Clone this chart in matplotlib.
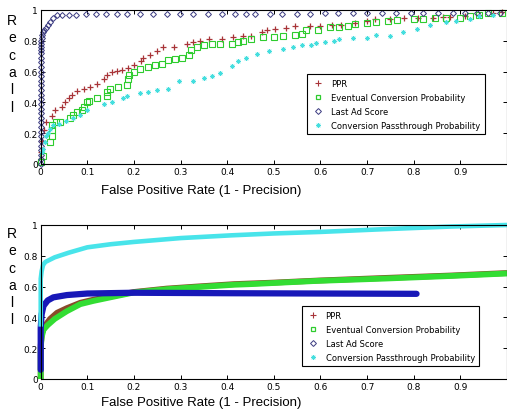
import matplotlib.pyplot as plt
from matplotlib.lines import Line2D

# ---- top panel: sampled operating points ----
ppr_x = [0.0, 0.003, 0.008, 0.012, 0.024, 0.03, 0.046, 0.052, 0.06, 0.068, 0.077, 0.092,
         0.106, 0.12, 0.135, 0.142, 0.152, 0.163, 0.174, 0.188, 0.2, 0.216, 0.22, 0.235,
         0.249, 0.263, 0.285, 0.313, 0.327, 0.342, 0.36, 0.388, 0.413, 0.434, 0.45, 0.474,
         0.485, 0.503, 0.527, 0.545, 0.578, 0.6, 0.625, 0.643, 0.675, 0.7, 0.716, 0.75,
         0.78, 0.81, 0.842, 0.863, 0.878, 0.91, 0.94, 0.97, 0.99]
ppr_y = [0.08, 0.15, 0.22, 0.27, 0.31, 0.35, 0.37, 0.4, 0.43, 0.45, 0.476, 0.49,
         0.5, 0.52, 0.55, 0.58, 0.595, 0.605, 0.61, 0.625, 0.64, 0.67, 0.69, 0.71,
         0.735, 0.757, 0.757, 0.779, 0.79, 0.8, 0.81, 0.81, 0.823, 0.83, 0.83, 0.855,
         0.87, 0.875, 0.886, 0.897, 0.897, 0.897, 0.9, 0.9, 0.917, 0.93, 0.94, 0.94,
         0.945, 0.945, 0.948, 0.952, 0.955, 0.962, 0.97, 0.978, 0.985]

ecp_x = [0.0, 0.005, 0.02, 0.024, 0.024, 0.024, 0.032, 0.041, 0.063, 0.07, 0.078, 0.088,
         0.093, 0.1, 0.104, 0.12, 0.142, 0.142, 0.149, 0.166, 0.184, 0.188, 0.19, 0.2,
         0.213, 0.231, 0.245, 0.26, 0.274, 0.288, 0.302, 0.317, 0.323, 0.335, 0.35, 0.367,
         0.385, 0.41, 0.424, 0.434, 0.452, 0.477, 0.5, 0.52, 0.545, 0.56, 0.57, 0.595,
         0.62, 0.64, 0.66, 0.675, 0.7, 0.72, 0.745, 0.765, 0.8, 0.82, 0.845, 0.87,
         0.9, 0.92, 0.94, 0.96, 0.99]
ecp_y = [0.01, 0.05, 0.14, 0.18, 0.22, 0.25, 0.27, 0.27, 0.3, 0.32, 0.34, 0.35,
         0.37, 0.4, 0.41, 0.43, 0.44, 0.47, 0.49, 0.5, 0.51, 0.55, 0.58, 0.6,
         0.62, 0.63, 0.64, 0.65, 0.672, 0.68, 0.69, 0.71, 0.74, 0.757, 0.77, 0.78,
         0.78, 0.78, 0.79, 0.8, 0.81, 0.823, 0.823, 0.83, 0.835, 0.845, 0.867, 0.867,
         0.89, 0.89, 0.897, 0.91, 0.917, 0.92, 0.93, 0.935, 0.94, 0.94, 0.948, 0.95,
         0.95, 0.96, 0.97, 0.98, 0.98]

las_x = [0.0, 0.0, 0.0, 0.0, 0.0, 0.0, 0.0, 0.0, 0.0, 0.0, 0.0, 0.0, 0.0, 0.0, 0.0,
         0.0, 0.0, 0.0, 0.0, 0.0, 0.0, 0.0, 0.0, 0.0, 0.0, 0.0, 0.0, 0.0, 0.0, 0.002,
         0.003, 0.005, 0.008, 0.012, 0.015, 0.02, 0.027, 0.035, 0.045, 0.06, 0.075,
         0.097, 0.119, 0.141, 0.163, 0.185, 0.213, 0.241, 0.27, 0.299, 0.327, 0.359,
         0.388, 0.417, 0.44, 0.46, 0.492, 0.517, 0.549, 0.578, 0.61, 0.638, 0.67,
         0.699, 0.731, 0.763, 0.795, 0.82, 0.853, 0.884, 0.91, 0.935, 0.96, 0.985]
las_y = [0.0, 0.03, 0.06, 0.09, 0.12, 0.15, 0.18, 0.21, 0.24, 0.27, 0.3, 0.33, 0.36,
         0.39, 0.42, 0.45, 0.48, 0.51, 0.54, 0.57, 0.6, 0.63, 0.66, 0.69, 0.72, 0.74,
         0.76, 0.78, 0.8, 0.82, 0.84, 0.86, 0.87, 0.88, 0.9, 0.92, 0.95, 0.965, 0.965,
         0.97, 0.97, 0.972, 0.972, 0.972, 0.973, 0.973, 0.973, 0.974, 0.974, 0.974,
         0.974, 0.975, 0.975, 0.975, 0.976, 0.976, 0.976, 0.977, 0.977, 0.977, 0.978,
         0.978, 0.978, 0.978, 0.979, 0.979, 0.979, 0.98, 0.98, 0.98, 0.981, 0.981,
         0.982, 0.982]

cpp_x = [0.002, 0.005, 0.01, 0.012, 0.015, 0.02, 0.026, 0.04, 0.055, 0.07, 0.085, 0.1,
         0.135, 0.152, 0.176, 0.186, 0.212, 0.23, 0.25, 0.272, 0.296, 0.327, 0.35,
         0.367, 0.385, 0.41, 0.424, 0.44, 0.463, 0.49, 0.52, 0.54, 0.56, 0.58, 0.59,
         0.61, 0.63, 0.64, 0.67, 0.7, 0.72, 0.749, 0.776, 0.806, 0.834, 0.87, 0.89,
         0.92, 0.94, 0.97]
cpp_y = [0.076, 0.1, 0.14, 0.18, 0.2, 0.23, 0.25, 0.26, 0.28, 0.3, 0.32, 0.35,
         0.39, 0.4, 0.43, 0.44, 0.46, 0.466, 0.48, 0.487, 0.54, 0.54, 0.56,
         0.57, 0.59, 0.638, 0.67, 0.69, 0.714, 0.735, 0.745, 0.757, 0.77, 0.77, 0.785,
         0.79, 0.8, 0.81, 0.82, 0.82, 0.84, 0.833, 0.86, 0.876, 0.9, 0.92, 0.93,
         0.94, 0.96, 0.97]

# ---- bottom panel: full curves ----
b_ppr_x = [0.0, 0.0, 0.003, 0.01, 0.02, 0.035, 0.056, 0.085, 0.113, 0.149, 0.2, 0.27,
           0.343, 0.415, 0.5, 0.6, 0.737, 0.88, 1.0]
b_ppr_y = [0.0, 0.22, 0.3, 0.35, 0.39, 0.43, 0.46, 0.495, 0.515, 0.535, 0.565, 0.587,
           0.602, 0.616, 0.626, 0.64, 0.656, 0.672, 0.688]
b_ecp_x = [0.0, 0.0, 0.002, 0.006, 0.015, 0.03, 0.056, 0.085, 0.113, 0.149, 0.2, 0.27,
           0.343, 0.415, 0.45, 0.593, 0.737, 0.88, 1.0]
b_ecp_y = [0.0, 0.2, 0.27, 0.32, 0.35, 0.39, 0.44, 0.486, 0.507, 0.53, 0.562, 0.583,
           0.598, 0.612, 0.616, 0.637, 0.652, 0.669, 0.685]
b_las_x = [0.0, 0.0, 0.0, 0.002, 0.006, 0.015, 0.027, 0.056, 0.1, 0.2, 0.4, 0.6, 0.806]
b_las_y = [0.06, 0.2, 0.33, 0.42, 0.475, 0.51, 0.53, 0.545, 0.555, 0.56, 0.557, 0.555, 0.553]
b_cpp_x = [0.0, 0.0, 0.002, 0.005, 0.01, 0.03, 0.06, 0.1, 0.15, 0.2, 0.3, 0.41,
           0.5, 0.6, 0.73, 0.88, 1.0]
b_cpp_y = [0.34, 0.65, 0.7, 0.74, 0.76, 0.79, 0.82, 0.855, 0.875, 0.89, 0.915, 0.933,
           0.945, 0.955, 0.972, 0.99, 1.0]

labels = ['PPR', 'Eventual Conversion Probability', 'Last Ad Score',
          'Conversion Passthrough Probability']
xticks = [0, 0.1, 0.2, 0.3, 0.4, 0.5, 0.6, 0.7, 0.8, 0.9]
yticks = [0, 0.2, 0.4, 0.6, 0.8, 1]

c_red, c_green, c_navy, c_cyan = '#a83438', '#2ecc2e', '#3a3a80', '#45dede'
asterisk = (8, 2, 0)

fig = plt.figure(figsize=(5.07, 4.10), dpi=100)
ax1 = fig.add_axes([0.0803, 0.5976, 0.9197, 0.3756])
ax2 = fig.add_axes([0.0803, 0.0732, 0.9197, 0.3756])

ax1.plot(ppr_x, ppr_y, ls='none', marker='+', ms=4.5, mew=0.9, color=c_red, clip_on=False)
ax1.plot(ecp_x, ecp_y, ls='none', marker='s', ms=4, mew=0.8, mfc='none', color=c_green,
         clip_on=False)
ax1.plot(las_x, las_y, ls='none', marker='D', ms=3, mew=0.7, mfc='none', color=c_navy,
         clip_on=False)
ax1.plot(cpp_x, cpp_y, ls='none', marker=asterisk, ms=3.5, mew=0.5, color=c_cyan,
         clip_on=False)

ax2.plot(b_ppr_x, b_ppr_y, color='#8a4a2a', lw=4.2, solid_capstyle='butt', clip_on=False)
ax2.plot(b_ecp_x, b_ecp_y, color='#33dd33', lw=4.2, solid_capstyle='butt', clip_on=False)
ax2.plot(b_las_x, b_las_y, color='#1818b8', lw=4.5, solid_capstyle='round', clip_on=False)
ax2.plot(b_cpp_x, b_cpp_y, color='#48e4ea', lw=3.3, solid_capstyle='butt', clip_on=False)

handles = [
    Line2D([], [], ls='none', marker='+', ms=4, mew=0.8, color=c_red),
    Line2D([], [], ls='none', marker='s', ms=3.5, mew=0.9, mfc='none', mec=c_green),
    Line2D([], [], ls='none', marker='D', ms=3, mew=0.7, mfc='none', color=c_navy),
    Line2D([], [], ls='none', marker=asterisk, ms=3.5, mew=0.5, color=c_cyan),
]

for ax, anchor in [(ax1, (0.571, 0.584)), (ax2, (0.56, 0.473))]:
    ax.set_xlim(0, 1)
    ax.set_ylim(0, 1)
    ax.set_xticks(xticks)
    ax.set_xticklabels([f'{t:g}' for t in xticks])
    ax.set_yticks(yticks)
    ax.set_yticklabels([f'{t:g}' for t in yticks])
    ax.tick_params(direction='in', length=3, width=0.7, labelsize=6.5, pad=2,
                   top=True, right=True)
    for sp in ax.spines.values():
        sp.set_linewidth(0.8)
    leg = ax.legend(handles, labels, loc='upper left', bbox_to_anchor=anchor,
                    fontsize=6, frameon=True, fancybox=False, framealpha=1,
                    edgecolor='black', handlelength=1.5, handletextpad=0.8,
                    labelspacing=0.6, borderpad=0.55, borderaxespad=0)
    leg.get_frame().set_linewidth(0.8)
    leg.set_zorder(5)

for yc in [0.843, 0.324]:
    fig.text(0.024, yc, 'R\ne\nc\na\nl\nl', ha='center', va='center', fontsize=10,
             family='Liberation Sans', linespacing=1.3)
for yc in [0.535, 0.017]:
    fig.text(0.397, yc, 'False Positive Rate (1 - Precision)', ha='center', va='center',
             fontsize=9.5, family='Liberation Sans')

plt.savefig('out.png', dpi=100)
